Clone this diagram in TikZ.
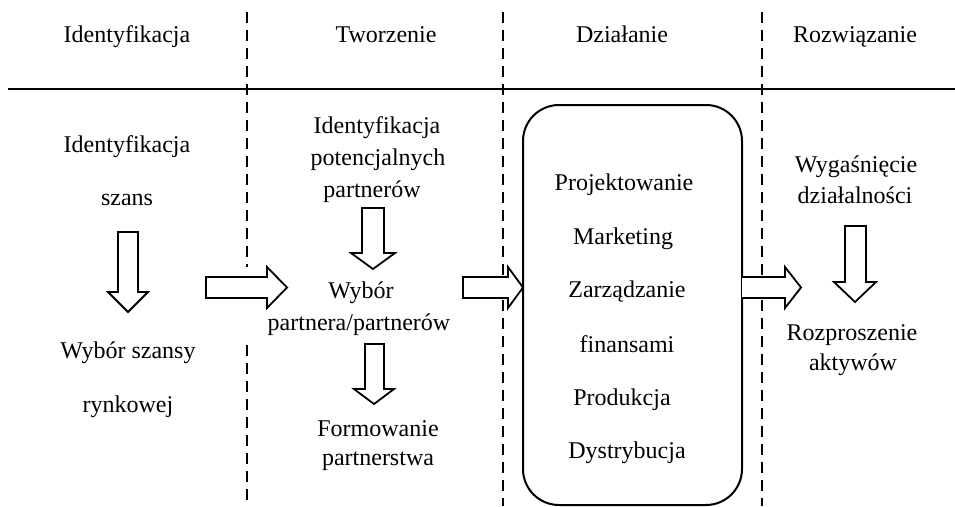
\documentclass[tikz,border=0pt]{standalone}
\usepackage{fontspec}
\setmainfont{Liberation Serif}[Extension=.ttf,UprightFont=LiberationSerif-Regular,BoldFont=LiberationSerif-Bold]
\begin{document}
\begin{tikzpicture}[x=1pt,y=-1pt,
  txt/.style={anchor=base,inner sep=0pt,font=\rmfamily\fontsize{24}{28}\selectfont},
  sep/.style={line width=2.2pt,dash pattern=on 11pt off 7pt},
  blk/.style={draw=black,fill=white,line width=1.8pt,line join=miter},
  frame/.style={draw=black,line width=2pt,rounded corners=36pt}]
\useasboundingbox (0,0) rectangle (955,506);
% header rule
\draw[line width=2pt] (8,89) coordinate (hl) -- (955,89) coordinate (hr);
% phase separators
\draw[sep] (247,12) -- (247,267);
\draw[sep] (247,345) -- (247,506);
\draw[sep] (503,12) -- (503,506);
\draw[sep] (762,12) -- (762,506);
% headers
\node[txt] (h1) at (127,42) {Identyfikacja};
\node[txt] (h2) at (386,42) {Tworzenie};
\node[txt] (h3) at (622,42) {Działanie};
\node[txt] (h4) at (855,42) {Rozwiązanie};
% column 1
\node[txt] (a1) at (127,152) {Identyfikacja};
\node[txt] (a2) at (127,205) {szans};
\node[txt] (a3) at (128,358) {Wybór szansy};
\node[txt] (a4) at (128,412) {rynkowej};
% column 2
\node[txt] (b1) at (377,133) {Identyfikacja};
\node[txt] (b2) at (378,165) {potencjalnych};
\node[txt] (b3) at (372,197) {partnerów};
\node[txt] (b4) at (361,298) {Wybór};
\node[txt] (b5) at (359,330) {partnera/partnerów};
\node[txt] (b6) at (378,436) {Formowanie};
\node[txt] (b7) at (378,465) {partnerstwa};
% column 3 box
\draw[frame] (523,105) rectangle (742,505);
\coordinate (boxW) at (523,287.5);
\coordinate (boxE) at (742,287.5);
\node[txt] (c1) at (624,190) {Projektowanie};
\node[txt] (c2) at (623,244) {Marketing};
\node[txt] (c3) at (627,297) {Zarządzanie};
\node[txt] (c4) at (627,352) {finansami};
\node[txt] (c5) at (622,405) {Produkcja};
\node[txt] (c6) at (627,458) {Dystrybucja};
% column 4
\node[txt] (d1) at (856,172) {Wygaśnięcie};
\node[txt] (d2) at (855,203) {działalności};
\node[txt] (d3) at (852,340) {Rozproszenie};
\node[txt] (d4) at (853,370) {aktywów};
% vertical block arrows
\draw[blk] (118,232) -- (138,232) -- (138,292) -- (148,292) -- (128,312) -- (108,292) -- (118,292) -- cycle;
\draw[blk] (362,208) -- (384,208) -- (384,253) -- (395,253) -- (373,269) -- (351,253) -- (362,253) -- cycle;
\draw[blk] (365,344) -- (384,344) -- (384,389) -- (394,389) -- (374,404) -- (354,389) -- (365,389) -- cycle;
\draw[blk] (845,226) -- (866,226) -- (866,282) -- (876,282) -- (855,302) -- (834,282) -- (845,282) -- cycle;
% horizontal block arrows
\draw[blk] (206,277) -- (267,277) -- (267,267) -- (287,287.5) -- (267,308) -- (267,298) -- (206,298) -- cycle;
\draw[blk] (463,277) -- (508,277) -- (508,267) -- (boxW) -- (508,308) -- (508,298) -- (463,298) -- cycle;
\draw[blk] (boxE |- 0,277) -- (785,277) -- (785,267) -- (801,287.5) -- (785,308) -- (785,298) -- (boxE |- 0,298);
\end{tikzpicture}
\end{document}
